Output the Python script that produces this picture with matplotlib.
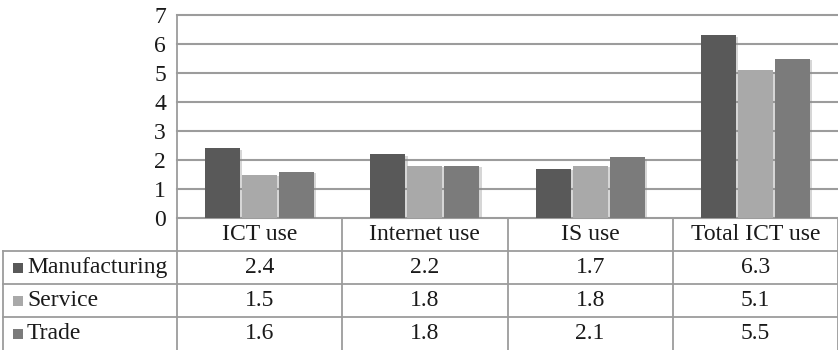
import matplotlib
matplotlib.use("Agg")
import matplotlib.pyplot as plt
import matplotlib.patheffects as pe
import numpy as np

categories = ["ICT use", "Internet use", "IS use", "Total ICT use"]
series_names = ["Manufacturing", "Service", "Trade"]
manufacturing = [2.4, 2.2, 1.7, 6.3]
service = [1.5, 1.8, 1.8, 5.1]
trade = [1.6, 1.8, 2.1, 5.5]
series_values = [manufacturing, service, trade]
series_colors = ["#595959", "#a9a9a9", "#7b7b7b"]
y_ticks = [0, 1, 2, 3, 4, 5, 6, 7]

plt.rcParams["font.family"] = ["Liberation Serif", "DejaVu Serif"]
TEXT = "#1a1a1a"
GRID = "#9c9c9c"
FS = 17

W, H = 838, 350
fig = plt.figure(figsize=(W / 100, H / 100), dpi=100)

# pixel layout
plot_left, plot_right = 177, 838
plot_top, plot_bottom = 15, 218
table_left = 3
row_h = 33
n_rows = 1 + len(series_names)
table_bottom = plot_bottom + row_h * n_rows

def fx(px):
    return px / W

def fy(py):
    return 1 - py / H

ax = fig.add_axes([fx(plot_left), fy(plot_bottom), fx(plot_right - plot_left),
                   (plot_bottom - plot_top) / H])
n_cat = len(categories)
ax.set_xlim(-0.5, n_cat - 0.5)
ax.set_ylim(0, 7)
ax.set_yticks(y_ticks)
ax.set_yticklabels([str(t) for t in y_ticks], fontsize=FS, color=TEXT)
ax.tick_params(axis="y", length=0, pad=8)
ax.set_xticks([])
for s in ax.spines.values():
    s.set_visible(False)
ax.set_axisbelow(True)
for t in y_ticks:
    ax.axhline(t, color=GRID, lw=1.5, zorder=0, clip_on=False)

width = 0.212
step = 0.224
x = np.arange(n_cat)
shadow = [pe.SimplePatchShadow(offset=(1.6, -1.2), shadow_rgbFace="0.55", alpha=0.35),
          pe.Normal()]
for i, (vals, col) in enumerate(zip(series_values, series_colors)):
    bars = ax.bar(x + (i - 1) * step, vals, width=width, color=col,
                  edgecolor="none", zorder=3)
    for b in bars:
        b.set_path_effects(shadow)

# data table below the plot
px_per_unit = (plot_right - plot_left) / n_cat
tx0 = -0.5 - (plot_left - table_left) / px_per_unit
tax = fig.add_axes([fx(table_left), fy(table_bottom), fx(plot_right - table_left),
                    (table_bottom - plot_bottom) / H])
tax.set_xlim(tx0, n_cat - 0.5)
tax.set_ylim(n_rows, 0)
tax.axis("off")

lw = 1.3
# y-axis line continuing through the table
ax.plot([-0.5, -0.5], [0, 7], color=GRID, lw=lw, clip_on=False, zorder=2)
tax.plot([-0.5, -0.5], [0, n_rows], color=GRID, lw=lw, clip_on=False)
# column separators
for k in range(1, n_cat + 1):
    tax.plot([k - 0.5, k - 0.5], [0, n_rows], color=GRID, lw=lw, clip_on=False)
# table outer left edge
tax.plot([tx0, tx0], [1, n_rows], color=GRID, lw=lw, clip_on=False)
# row separators
for r in range(1, n_rows):
    tax.plot([tx0, n_cat - 0.5], [r, r], color=GRID, lw=lw, clip_on=False)

for j, cat in enumerate(categories):
    tax.text(j, 0.5, cat, ha="center", va="center", fontsize=FS, color=TEXT)

sq_w = 10 / px_per_unit
sq_h = 10 / row_h
for r, (name, vals, col) in enumerate(zip(series_names, series_values, series_colors), start=1):
    sq_x = tx0 + 10 / px_per_unit
    tax.add_patch(plt.Rectangle((sq_x, r + 0.5 - sq_h / 2), sq_w, sq_h,
                                facecolor=col, edgecolor="none", clip_on=False))
    tax.text(tx0 + 24 / px_per_unit, r + 0.5, name, ha="left", va="center",
             fontsize=FS, color=TEXT)
    for j, v in enumerate(vals):
        tax.text(j, r + 0.5, f"{v:.1f}", ha="center", va="center",
                 fontsize=FS, color=TEXT)

fig.savefig("out.png", dpi=100)
